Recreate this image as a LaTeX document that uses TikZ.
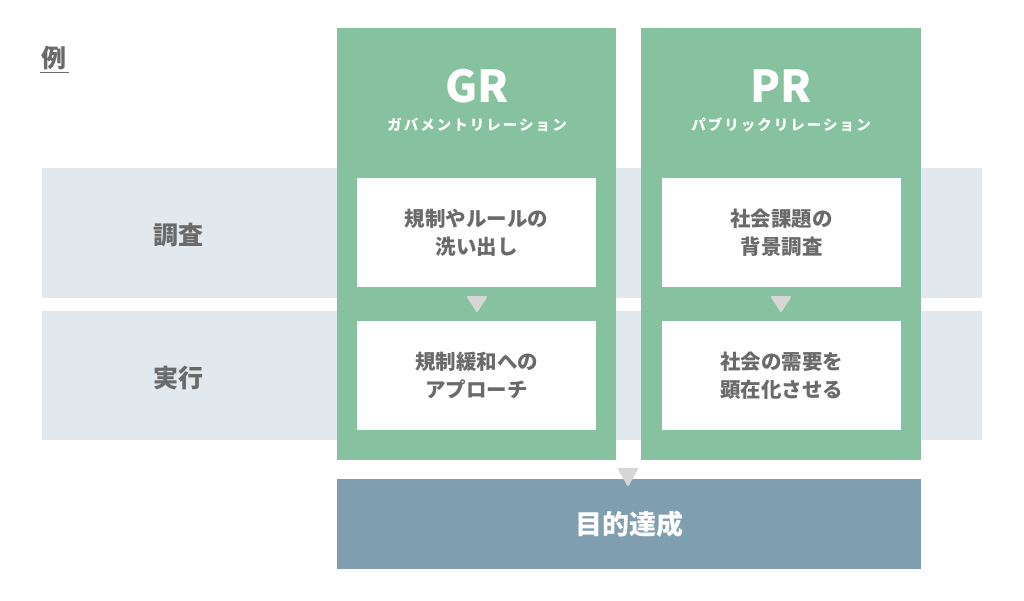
\documentclass[tikz,border=0pt]{standalone}
\usepackage{fontspec}
\setmainfont{Noto Sans CJK JP}
\newfontfamily\jp{Noto Sans CJK JP}
\newfontfamily\jpsp[LetterSpace=14]{Noto Sans CJK JP}
\usetikzlibrary{positioning,calc}
\definecolor{grn}{HTML}{86C29F}
\definecolor{rowc}{HTML}{E1E8EE}
\definecolor{goalc}{HTML}{7F9EAF}
\definecolor{txt}{HTML}{6A6A6A}
\definecolor{arr}{HTML}{D6D6D6}
\tikzset{
  rowband/.style={fill=rowc, draw=none},
  colband/.style={fill=grn, draw=none},
  wbox/.style={fill=white, draw=none, minimum width=239pt, minimum height=109pt, anchor=north west, inner sep=0pt,
     align=center, text=txt, font=\jp\bfseries\fontsize{20.5}{28}\selectfont},
  rowlabel/.style={text=txt, font=\jp\bfseries\fontsize{25}{30}\selectfont},
  tri/.style={fill=arr, draw=arr, line width=2pt, line join=round},
}
\begin{document}
\begin{tikzpicture}[x=1pt,y=-1pt]
\useasboundingbox (0,0) rectangle (1024,600);
\fill[white] (0,0) rectangle (1024,600);
% rows
\fill[rowband] (42,168) rectangle (982,298);
\fill[rowband] (42,311) rectangle (982,440);
% columns
\fill[colband] (337,28) rectangle (616,460);
\fill[colband] (641,28) rectangle (921,460);
% title
\node[text=txt, font=\jp\bfseries\fontsize{25}{30}\selectfont, inner sep=0pt] (ex) at (54,58) {例};
\draw[txt, line width=1.6pt] (40,72.5) -- (69,72.5);
% headers
\node[text=white, font=\jp\bfseries\fontsize{44}{44}\selectfont, inner sep=0pt] (gr) at (477,86) {GR};
\node[text=white, font=\jpsp\bfseries\fontsize{14.5}{15}\selectfont, inner sep=0pt] (grs) at (477,125) {ガバメントリレーション};
\node[text=white, font=\jp\bfseries\fontsize{44}{44}\selectfont, inner sep=0pt] (pr) at (781,86) {PR};
\node[text=white, font=\jpsp\bfseries\fontsize{14.5}{15}\selectfont, inner sep=0pt] (prs) at (781,125) {パブリックリレーション};
% row labels
\node[rowlabel] (r1) at (178,235) {調査};
\node[rowlabel] (r2) at (178,378) {実行};
% boxes
\node[wbox] (g1) at (357,178) {規制やルールの\\洗い出し};
\node[wbox] (g2) at (357,321) {規制緩和への\\アプローチ};
\node[wbox] (p1) at (662,178) {社会課題の\\背景調査};
\node[wbox] (p2) at (662,321) {社会の需要を\\顕在化させる};
% goal
\node[fill=goalc, minimum width=584pt, minimum height=90pt, anchor=north west, inner sep=0pt,
  text=white, font=\jp\bfseries\fontsize{27}{30}\selectfont] (goal) at (337,479) {目的達成};
% arrows
\filldraw[tri] (468,297) -- (486,297) -- (477,311) -- cycle;
\filldraw[tri] (772,297) -- (790,297) -- (781,311) -- cycle;
\filldraw[tri] (619,469) -- (637,469) -- (628,485) -- cycle;
\end{tikzpicture}
\end{document}
